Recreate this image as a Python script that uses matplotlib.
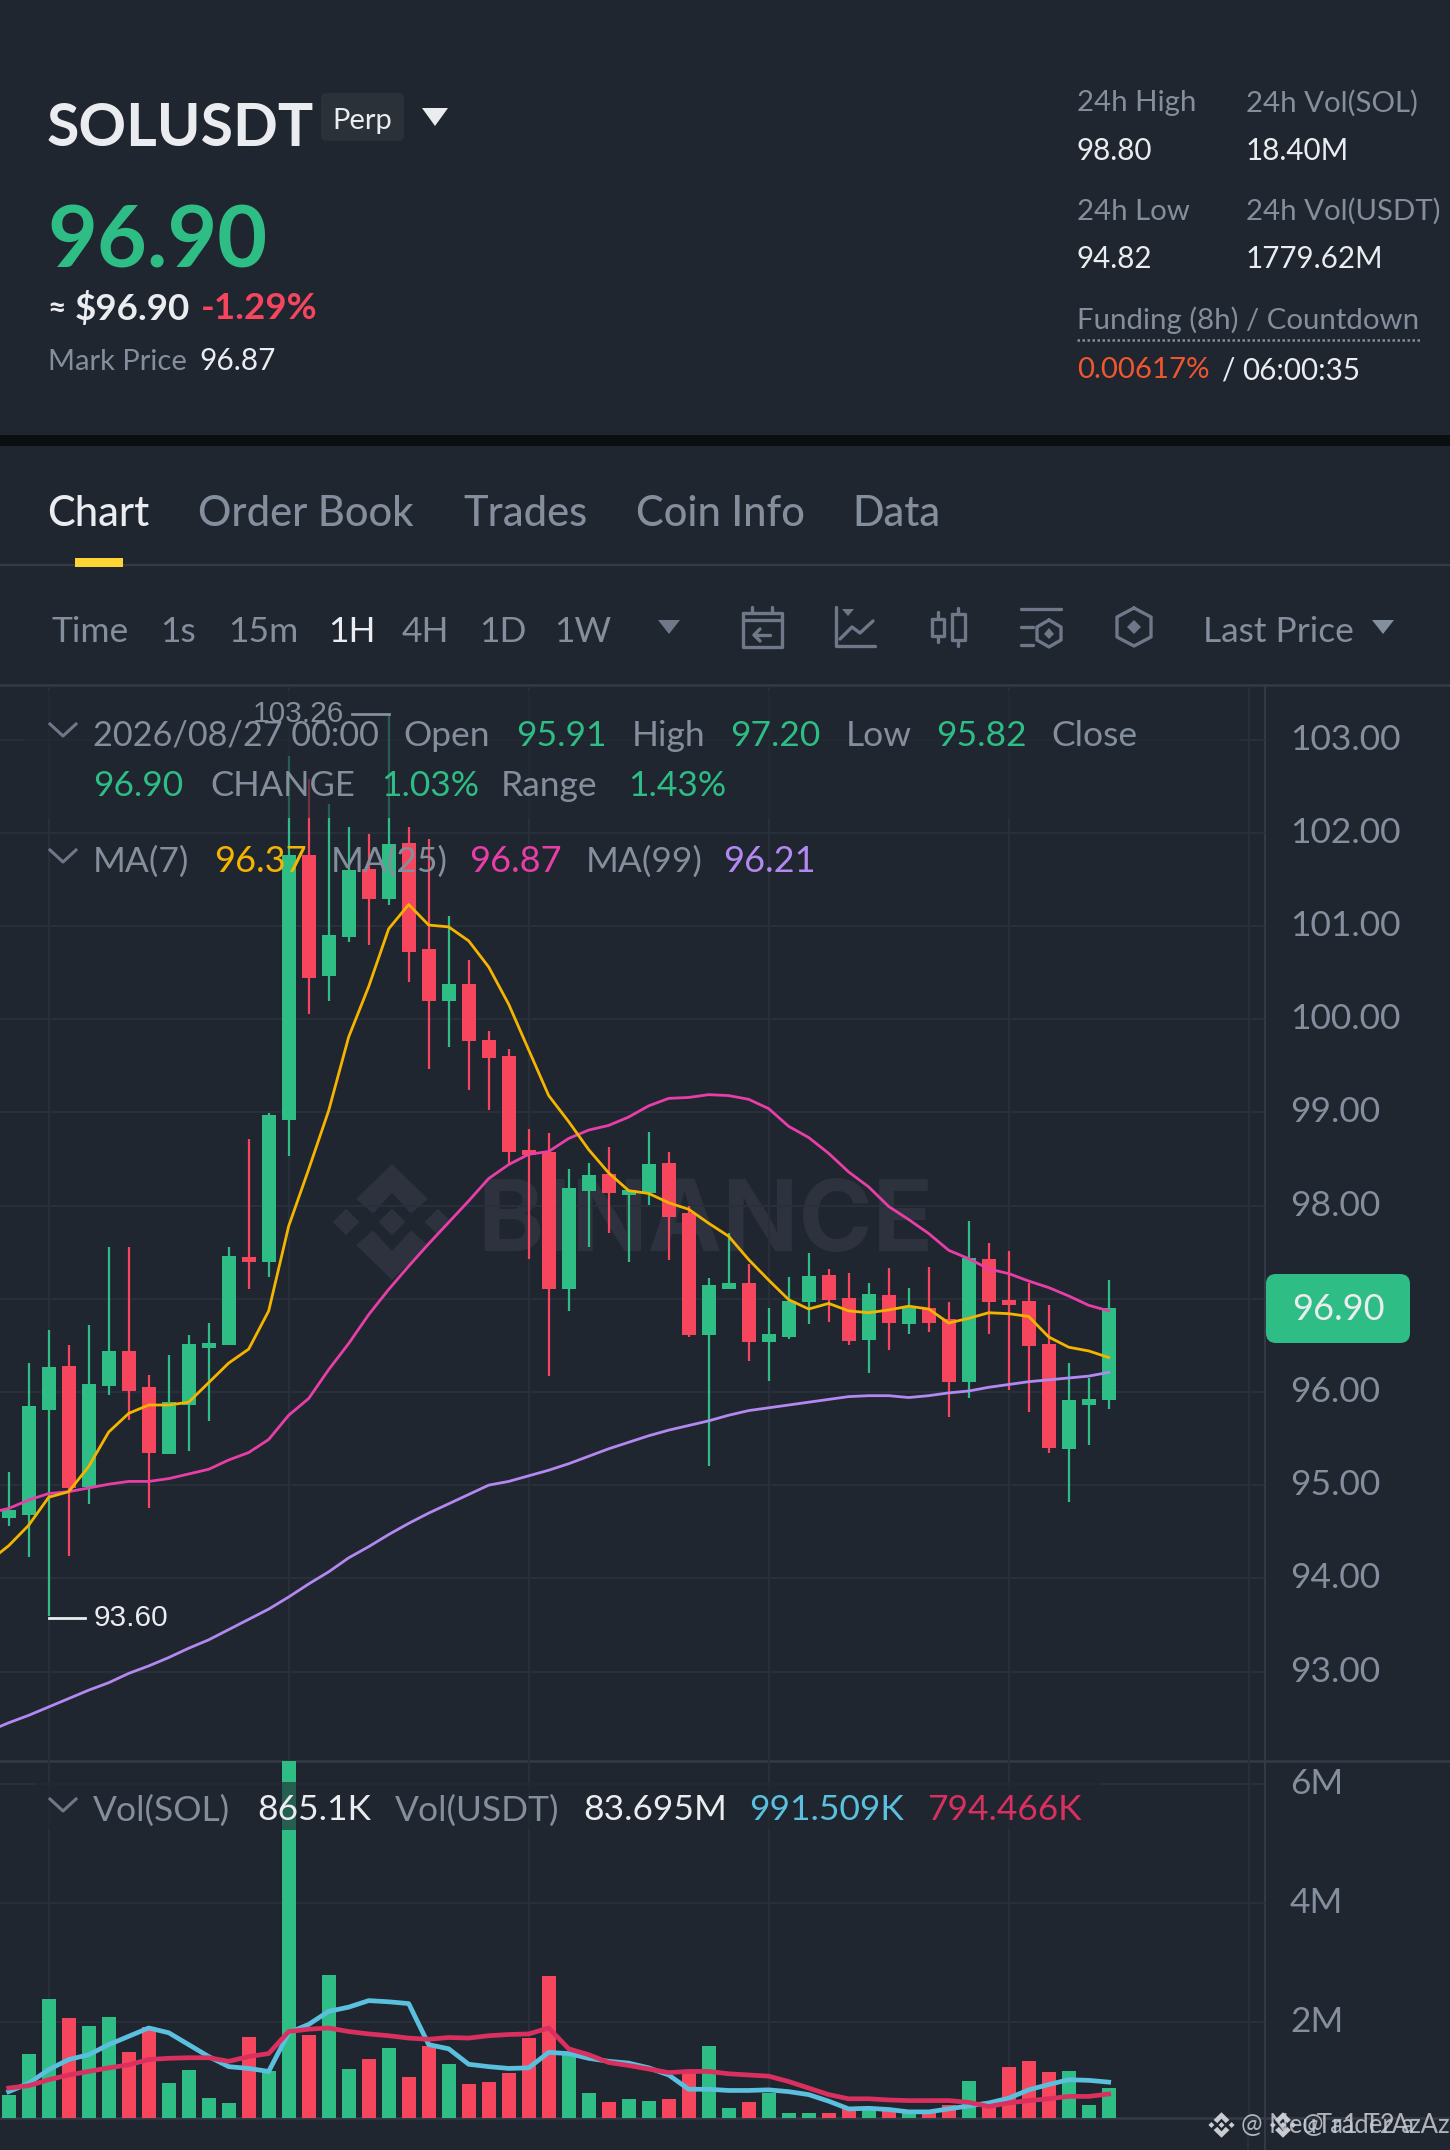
"""SOLUSDT perpetual 1H chart screen."""
import matplotlib
matplotlib.use("Agg")
import matplotlib.pyplot as plt
from matplotlib.patches import FancyBboxPatch, Polygon, Rectangle
from matplotlib.transforms import ScaledTranslation

W, H = 1450, 2150

# candles, oldest first
opens = [94.65, 94.68, 95.81, 96.28, 94.98, 96.06, 96.44, 96.05, 95.33, 95.86, 96.47, 96.50, 97.45, 97.39,
         98.92, 101.76, 100.46, 100.88, 101.61, 101.29, 101.89, 100.75, 100.20, 100.38, 99.78, 99.61, 98.60, 98.57,
         97.10, 98.16, 98.34, 98.11, 98.13, 98.46, 97.92, 96.61, 97.11, 97.17, 96.54, 96.59, 96.96, 97.25,
         97.01, 96.56, 97.04, 96.73, 96.90, 96.78, 96.11, 97.43, 96.99, 96.98, 96.51, 95.39, 95.86, 95.91]
closes = [94.73, 95.85, 96.27, 94.97, 96.08, 96.44, 96.01, 95.35, 95.89, 96.51, 96.53, 97.46, 97.39, 98.97,
          101.76, 100.44, 100.90, 101.60, 101.29, 101.88, 100.72, 100.20, 100.38, 99.77, 99.58, 98.58, 98.54, 97.10,
          98.19, 98.33, 98.14, 98.17, 98.45, 97.88, 96.61, 97.15, 97.17, 96.54, 96.62, 96.98, 97.24, 96.99,
          96.55, 97.05, 96.74, 96.90, 96.74, 96.11, 97.44, 96.97, 96.93, 96.49, 95.40, 95.91, 95.92, 96.90]
highs = [95.14, 96.31, 96.67, 96.50, 96.72, 97.56, 97.55, 96.18, 96.40, 96.61, 96.74, 97.55, 98.71, 98.99,
         102.82, 102.58, 102.31, 102.06, 101.99, 103.26, 102.06, 101.93, 101.11, 100.63, 99.87, 99.68, 98.82, 98.78,
         98.39, 98.46, 98.63, 98.17, 98.79, 98.57, 98.00, 97.22, 97.71, 97.37, 96.90, 97.23, 97.49, 97.32,
         97.28, 97.17, 97.33, 97.12, 97.34, 96.97, 97.83, 97.60, 97.51, 97.17, 96.93, 96.31, 96.15, 97.20]
lows = [94.56, 94.23, 93.60, 94.24, 94.80, 95.97, 95.70, 94.76, 95.33, 95.37, 95.69, 96.50, 97.10, 97.23,
        98.53, 100.06, 100.20, 100.83, 100.80, 101.22, 100.40, 99.47, 99.70, 99.24, 99.03, 98.45, 97.43, 96.17,
        96.87, 97.56, 97.71, 97.39, 98.01, 97.42, 96.59, 95.21, 97.11, 96.33, 96.12, 96.57, 96.73, 96.75,
        96.50, 96.20, 96.45, 96.62, 96.64, 95.73, 95.94, 96.62, 96.02, 95.78, 95.34, 94.82, 95.43, 95.82]

# moving averages, first value belongs to the partly hidden candle left of the frame
ma7 = [94.18, 94.35, 94.57, 94.87, 94.93, 95.20, 95.57, 95.77, 95.86, 95.86, 95.89, 96.10, 96.31, 96.46, 96.87,
       97.78, 98.39, 99.02, 99.81, 100.35, 100.97, 101.23, 101.01, 100.99, 100.84, 100.56, 100.16, 99.67, 99.18,
       98.90, 98.60, 98.35, 98.16, 98.13, 98.03, 97.96, 97.81, 97.67, 97.42, 97.20, 96.99, 96.89, 96.95,
       96.87, 96.85, 96.88, 96.92, 96.89, 96.74, 96.79, 96.85, 96.84, 96.81, 96.59, 96.48, 96.44, 96.37]
ma25 = [94.70, 94.75, 94.84, 94.91, 94.93, 94.97, 95.01, 95.04, 95.04, 95.07, 95.12, 95.17, 95.27, 95.35, 95.49,
        95.75, 95.93, 96.24, 96.52, 96.83, 97.10, 97.35, 97.59, 97.82, 98.05, 98.29, 98.44, 98.55, 98.58,
        98.72, 98.81, 98.86, 98.95, 99.07, 99.15, 99.16, 99.19, 99.18, 99.14, 99.04, 98.85, 98.73, 98.56,
        98.36, 98.20, 97.99, 97.85, 97.70, 97.52, 97.43, 97.32, 97.27, 97.19, 97.12, 97.03, 96.93, 96.87]
ma99 = [92.36, 92.45, 92.53, 92.62, 92.71, 92.80, 92.88, 92.98, 93.06, 93.15, 93.25, 93.34, 93.45, 93.56, 93.67,
        93.80, 93.94, 94.07, 94.22, 94.34, 94.47, 94.59, 94.70, 94.80, 94.90, 95.00, 95.04, 95.10, 95.16,
        95.23, 95.31, 95.39, 95.46, 95.53, 95.59, 95.64, 95.69, 95.75, 95.80, 95.83, 95.86, 95.89, 95.92,
        95.95, 95.96, 95.96, 95.94, 95.96, 95.99, 96.01, 96.05, 96.08, 96.11, 96.13, 96.15, 96.17, 96.21]

# volume in millions
volumes = [0.77, 1.46, 2.38, 2.07, 1.94, 2.08, 1.49, 1.92, 0.97, 1.20, 0.72, 0.64, 1.75, 1.17,
           6.42, 1.79, 2.79, 1.21, 1.38, 1.57, 1.07, 1.60, 1.30, 0.96, 0.99, 1.14, 1.73, 2.78,
           1.47, 0.80, 0.66, 0.71, 0.67, 0.71, 1.14, 1.59, 0.56, 0.66, 0.81, 0.47, 0.47, 0.47,
           0.53, 0.55, 0.53, 0.47, 0.50, 0.61, 1.01, 0.58, 1.25, 1.35, 1.16, 1.18, 0.61, 0.89]
vol_ma_sol = [0.83, 0.97, 1.20, 1.37, 1.45, 1.62, 1.76, 1.90, 1.82, 1.62, 1.42, 1.25, 1.22, 1.17,
              1.82, 1.96, 2.18, 2.25, 2.36, 2.34, 2.31, 1.62, 1.55, 1.29, 1.25, 1.22, 1.23, 1.49,
              1.47, 1.39, 1.34, 1.31, 1.23, 1.11, 0.87, 0.87, 0.85, 0.85, 0.86, 0.83, 0.78, 0.67,
              0.54, 0.55, 0.53, 0.49, 0.49, 0.54, 0.59, 0.64, 0.72, 0.86, 0.95, 1.03, 1.02, 0.99]
vol_ma_usdt = [0.89, 0.93, 1.03, 1.11, 1.17, 1.23, 1.28, 1.37, 1.39, 1.40, 1.40, 1.34, 1.42, 1.47,
               1.84, 1.88, 1.90, 1.84, 1.80, 1.77, 1.73, 1.71, 1.74, 1.73, 1.77, 1.79, 1.80, 1.90,
               1.55, 1.45, 1.32, 1.27, 1.21, 1.15, 1.17, 1.17, 1.13, 1.11, 1.09, 1.00, 0.89, 0.78,
               0.71, 0.71, 0.69, 0.68, 0.68, 0.68, 0.65, 0.58, 0.64, 0.68, 0.71, 0.75, 0.75, 0.79]

price_ticks = [93, 94, 95, 96, 97, 98, 99, 100, 101, 102, 103]
vol_ticks = [2, 4, 6]
vol_tick_labels = ["2M", "4M", "6M"]
time_grid = [2, 14, 26, 38, 50, 62]

BG = "#1f2630"
GRID = "#2a303b"
LINE = "#343a46"
GREEN = "#2ebd85"
RED = "#f6465d"
GRAY = "#848e9c"
WHITE = "#eaecef"
ICON = "#6f7888"
MARK = "#2d323e"

plt.rcParams["font.family"] = ["Lato", "DejaVu Sans"]


def px_axes(fig, left, top, right, bottom, zorder):
    return fig.add_axes([left / W, 1 - bottom / H, (right - left) / W, (bottom - top) / H], zorder=zorder)


def txt(ax, x, y, s, size, color, weight="normal", **kw):
    kw.setdefault("ha", "left")
    ax.text(x, y + 2.5, s, fontsize=size, color=color, fontweight=weight, va="center", **kw)


def logo(ax, cx, cy, k, color, zorder=1):
    shapes = [
        [(0, -58), (36, -23), (19, -8.4), (0, -29), (-19, -8.4), (-36, -23)],
        [(0, 58), (36, 23), (19, 8.4), (0, 29), (-19, 8.4), (-36, 23)],
        [(0, -13.4), (13.4, 0), (0, 13.4), (-13.4, 0)],
        [(-46, -13.4), (-32.6, 0), (-46, 13.4), (-59.4, 0)],
        [(46, -13.4), (59.4, 0), (46, 13.4), (32.6, 0)],
    ]
    for pts in shapes:
        ax.add_patch(Polygon([(cx + a * k, cy + b * k) for a, b in pts], closed=True, fc=color, ec="none", zorder=zorder))


def tri(ax, x0, x1, y0, y1, color):
    ax.add_patch(Polygon([(x0, y0), (x1, y0), ((x0 + x1) / 2, y1)], closed=True, fc=color, ec="none"))


def stroke(ax, xs, ys, lw=2.4):
    ax.plot(xs, ys, color=ICON, lw=lw, solid_capstyle="round", solid_joinstyle="round")


def style_pane(pane, y_ticks, y_labels):
    pane.patch.set_alpha(0)
    pane.set_xlim(-0.435, 62.815)
    pane.set_xticks(time_grid)
    pane.set_yticks(y_ticks)
    pane.grid(True, color=GRID, lw=1.4)
    pane.set_axisbelow(True)
    pane.yaxis.tick_right()
    pane.set_yticklabels(y_labels, fontsize=25.5, color=GRAY)
    pane.tick_params(axis="both", length=0, pad=18)
    pane.tick_params(axis="x", labelbottom=False)
    for s in pane.spines.values():
        s.set_visible(False)
    lift = ScaledTranslation(0, 0.03, pane.figure.dpi_scale_trans)
    for lab in pane.get_yticklabels():
        lab.set_transform(lab.get_transform() + lift)


fig = plt.figure(figsize=(W / 100, H / 100), dpi=100, facecolor=BG)

# page chrome in pixel coordinates
base = fig.add_axes([0, 0, 1, 1], zorder=0)
base.set_xlim(0, W)
base.set_ylim(H, 0)
base.axis("off")
base.add_patch(Rectangle((0, 435), W, 11, fc="#0b0e11", ec="none"))
base.plot([0, W], [565, 565], color=LINE, lw=1.6)
base.plot([0, W], [685, 685], color=LINE, lw=1.8)
base.plot([0, W], [1761, 1761], color=LINE, lw=1.8)
base.plot([0, W], [2118, 2118], color=LINE, lw=1.8)
base.plot([1265, 1265], [685, H], color=LINE, lw=1.4)
base.plot([1248, 1248], [2118, H], color=GRID, lw=1.4)

logo(base, 392, 1222, 1.0, MARK)
txt(base, 477, 1223, "BINANCE", 72, MARK, "bold", family="Inter")

# candles
xs = list(range(len(opens)))
ax = px_axes(fig, 0, 686, 1265, 1761, 1)
ax.set_ylim(92.04, 103.575)
style_pane(ax, price_ticks, [f"{p:.2f}" for p in price_ticks])
cols = [GREEN if c >= o else RED for o, c in zip(opens, closes)]
ax.vlines(xs, lows, highs, colors=cols, lw=1.6, zorder=3)
ax.bar(xs, [abs(c - o) for o, c in zip(opens, closes)], bottom=[min(o, c) for o, c in zip(opens, closes)],
       width=0.7, color=cols, zorder=4)
ma_x = [-1] + xs
ax.plot(ma_x, ma99, color="#b388f0", lw=2.0, zorder=5)
ax.plot(ma_x, ma25, color="#e93ea8", lw=2.0, zorder=6)
ax.plot(ma_x, ma7, color="#f5b400", lw=2.0, zorder=7)

# volume
vx = px_axes(fig, 0, 1761, 1265, 2118, 1)
vx.set_ylim(0.387, 6.387)
style_pane(vx, vol_ticks, vol_tick_labels)
vx.bar(xs, volumes, width=0.7, color=cols, zorder=3)
vx.plot(xs, vol_ma_sol, color="#5bc0de", lw=3.4, zorder=4)
vx.plot(xs, vol_ma_usdt, color="#d9305f", lw=3.4, zorder=5)

# overlay: header, tabs, toolbar, legends
top = fig.add_axes([0, 0, 1, 1], zorder=5)
top.patch.set_alpha(0)
top.set_xlim(0, W)
top.set_ylim(H, 0)
top.axis("off")
top.add_patch(Rectangle((25, 690), 1215, 128, fc=BG, ec="none", alpha=0.62))
top.add_patch(Rectangle((35, 1782), 1065, 48, fc=BG, ec="none", alpha=0.62))

txt(top, 47, 126, "SOLUSDT", 42.5, WHITE, "bold")
top.add_patch(FancyBboxPatch((325, 97), 75, 40, boxstyle="round,pad=4,rounding_size=6", fc="#2b3139", ec="none"))
txt(top, 362, 119, "Perp", 21, WHITE, ha="center")
tri(top, 422, 448, 108, 126, WHITE)
txt(top, 47, 241, "96.90", 62, GREEN, "bold")
txt(top, 48, 306, "≈", 23, WHITE, "bold")
txt(top, 75, 306, "$96.90", 26.5, WHITE, "bold")
txt(top, 201, 306, "-1.29%", 26.5, RED, "bold")
txt(top, 48, 359, "Mark Price", 21, GRAY)
txt(top, 199, 359, "96.87", 21.5, WHITE)

txt(top, 1077, 101, "24h High", 21.2, GRAY)
txt(top, 1246, 101, "24h Vol(SOL)", 21.2, GRAY)
txt(top, 1077, 149, "98.80", 21.3, WHITE)
txt(top, 1246, 149, "18.40M", 21.3, WHITE)
txt(top, 1077, 209, "24h Low", 21.2, GRAY)
txt(top, 1246, 209, "24h Vol(USDT)", 21.2, GRAY)
txt(top, 1077, 257, "94.82", 21.3, WHITE)
txt(top, 1246, 257, "1779.62M", 21.3, WHITE)
txt(top, 1077, 318, "Funding (8h) / Countdown", 21.2, GRAY)
top.plot([1077, 1422], [340, 340], color=GRAY, lw=1.8, ls=(0, (1, 1)))
txt(top, 1077, 368, "0.00617%", 21.2, "#f0562f")
txt(top, 1222, 368, "/", 21.3, WHITE)
txt(top, 1242, 368, "06:00:35", 21.3, WHITE)

txt(top, 47, 512, "Chart", 30, WHITE, "medium")
txt(top, 198, 512, "Order Book", 30, GRAY, "medium")
txt(top, 463, 512, "Trades", 30, GRAY, "medium")
txt(top, 636, 512, "Coin Info", 30, GRAY, "medium")
txt(top, 852, 512, "Data", 30, GRAY, "medium")
top.add_patch(Rectangle((75, 558), 48, 9, fc="#fcd535", ec="none"))

for x, s, c in [(52, "Time", GRAY), (160, "1s", GRAY), (228, "15m", GRAY), (328, "1H", WHITE),
                (402, "4H", GRAY), (479, "1D", GRAY), (554, "1W", GRAY), (1203, "Last Price", GRAY)]:
    txt(top, x, 630, s, 25.5, c)
tri(top, 658, 680, 620, 634, ICON)
tri(top, 1372, 1394, 620, 634, GRAY)

# toolbar icons
stroke(top, [743, 782, 782, 743, 743], [613, 613, 647, 647, 613])
stroke(top, [743, 782], [620, 620])
stroke(top, [752, 752], [607, 613])
stroke(top, [772, 772], [607, 613])
stroke(top, [754, 770], [635, 635])
stroke(top, [760, 754, 760], [629, 635, 641])
stroke(top, [836, 836, 875], [607, 646, 646])
stroke(top, [840, 852, 860, 873], [639, 627, 633, 621])
tri(top, 842, 854, 609, 616, ICON)
stroke(top, [932, 944, 944, 932, 932], [619, 619, 636, 636, 619])
stroke(top, [938, 938], [612, 619])
stroke(top, [938, 938], [636, 642])
stroke(top, [952, 965, 965, 952, 952], [614, 614, 640, 640, 614])
stroke(top, [958, 958], [608, 614])
stroke(top, [958, 958], [640, 646])
stroke(top, [1021, 1061], [609, 609])
stroke(top, [1021, 1033], [627, 627])
stroke(top, [1021, 1033], [645, 645])
stroke(top, [1049, 1061, 1061, 1049, 1037, 1037, 1049], [620, 627, 640, 647, 640, 627, 620])
top.add_patch(Polygon([(1049, 628), (1054, 634), (1049, 639), (1044, 634)], fc=ICON, ec="none"))
stroke(top, [1134, 1151, 1151, 1134, 1117, 1117, 1134], [608, 617, 637, 646, 637, 617, 608])
top.add_patch(Polygon([(1134, 620), (1141, 627), (1134, 634), (1127, 627)], fc=ICON, ec="none"))

# chart legends
for y in (733, 859, 1808):
    top.plot([50, 63, 76], [y - 9, y + 3, y - 9], color=ICON, lw=2.2)
for x, y, s, c, size in [(93, 733, "2026/08/27 00:00", GRAY, 24.7), (403, 733, "Open", GRAY, 25.5),
                         (516, 733, "95.91", GREEN, 25.5), (632, 733, "High", GRAY, 25.5),
                         (730, 733, "97.20", GREEN, 25.5), (846, 733, "Low", GRAY, 25.5),
                         (936, 733, "95.82", GREEN, 25.5), (1051, 733, "Close", GRAY, 25.5),
                         (93, 783, "96.90", GREEN, 25.5), (210, 783, "CHANGE", GRAY, 25),
                         (381, 783, "1.03%", GREEN, 25.5), (501, 783, "Range", GRAY, 25.5),
                         (628, 783, "1.43%", GREEN, 25.5), (93, 859, "MA(7)", GRAY, 25.5),
                         (214, 859, "96.37", "#f5b400", 26), (331, 859, "MA(25)", GRAY, 25.5),
                         (469, 859, "96.87", "#e93ea8", 26), (586, 859, "MA(99)", GRAY, 25.5),
                         (723, 859, "96.21", "#b388f0", 26), (93, 1808, "Vol(SOL)", GRAY, 25.5),
                         (257, 1808, "865.1K", WHITE, 25.5), (395, 1808, "Vol(USDT)", GRAY, 25.5),
                         (583, 1808, "83.695M", WHITE, 25.5), (749, 1808, "991.509K", "#5bc0de", 25.5),
                         (927, 1808, "794.466K", "#d9305f", 25.5)]:
    txt(top, x, y, s, size, c)

# extremes marks
txt(top, 253, 711, "103.26", 21.5, GRAY, family="Liberation Sans")
top.plot([352, 389], [714, 714], color=GRAY, lw=2)
txt(top, 94, 1616, "93.60", 21.5, WHITE, family="Liberation Sans")
top.plot([49, 85], [1618, 1618], color=WHITE, lw=2)

# last price tag
top.add_patch(FancyBboxPatch((1274, 1282), 128, 53, boxstyle="round,pad=8,rounding_size=10", fc=GREEN, ec="none"))
txt(top, 1338, 1307, "96.90", 26, WHITE, ha="center")

# repost stamps
logo(top, 1221.5, 2125, 0.22, "#c9ccd2", zorder=6)
logo(top, 1283, 2125, 0.22, "#c9ccd2", zorder=6)
txt(top, 1241, 2123, "@ NeuTraderAz", 18.5, "#c9ccd2", alpha=0.85)
txt(top, 1302, 2123, "@ a1 T2 a Az", 18.5, "#c9ccd2", alpha=0.85)

fig.savefig("out.png", dpi=100, facecolor=BG)
